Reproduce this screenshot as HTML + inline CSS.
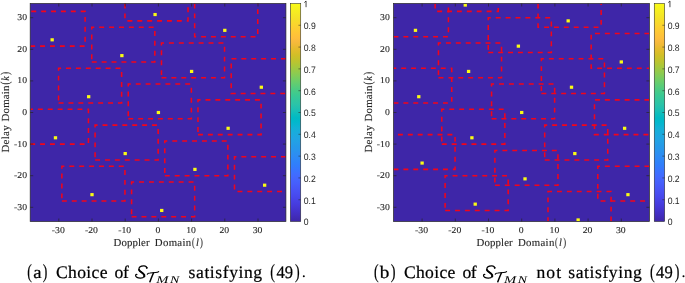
<!DOCTYPE html>
<html><head><meta charset="utf-8"><title>figure</title>
<style>
html,body{margin:0;padding:0;background:#fff;}
body{width:685px;height:283px;overflow:hidden;font-family:"Liberation Serif",serif;}
svg{display:block;will-change:transform;text-rendering:geometricPrecision;}
</style></head><body>
<svg width="685" height="283" viewBox="0 0 685 283">
<defs>
<linearGradient id="parula" x1="0" y1="1" x2="0" y2="0">
<stop offset="0.0000" stop-color="#3e26a8"/>
<stop offset="0.0159" stop-color="#402ab4"/>
<stop offset="0.0317" stop-color="#422ec0"/>
<stop offset="0.0476" stop-color="#4332cb"/>
<stop offset="0.0635" stop-color="#4537d5"/>
<stop offset="0.0794" stop-color="#463cde"/>
<stop offset="0.0952" stop-color="#4741e5"/>
<stop offset="0.1111" stop-color="#4747eb"/>
<stop offset="0.1270" stop-color="#484df0"/>
<stop offset="0.1429" stop-color="#4852f4"/>
<stop offset="0.1587" stop-color="#4758f8"/>
<stop offset="0.1746" stop-color="#465efb"/>
<stop offset="0.1905" stop-color="#4563fd"/>
<stop offset="0.2063" stop-color="#4269fe"/>
<stop offset="0.2222" stop-color="#3e6fff"/>
<stop offset="0.2381" stop-color="#3875fe"/>
<stop offset="0.2540" stop-color="#327cfc"/>
<stop offset="0.2698" stop-color="#2f81fa"/>
<stop offset="0.2857" stop-color="#2e87f7"/>
<stop offset="0.3016" stop-color="#2d8cf3"/>
<stop offset="0.3175" stop-color="#2b91ef"/>
<stop offset="0.3333" stop-color="#2797eb"/>
<stop offset="0.3492" stop-color="#259be8"/>
<stop offset="0.3651" stop-color="#23a0e5"/>
<stop offset="0.3810" stop-color="#20a5e3"/>
<stop offset="0.3968" stop-color="#1ca9df"/>
<stop offset="0.4127" stop-color="#18addb"/>
<stop offset="0.4286" stop-color="#12b1d6"/>
<stop offset="0.4444" stop-color="#08b5d0"/>
<stop offset="0.4603" stop-color="#01b8ca"/>
<stop offset="0.4762" stop-color="#02bac3"/>
<stop offset="0.4921" stop-color="#0bbdbd"/>
<stop offset="0.5079" stop-color="#19bfb6"/>
<stop offset="0.5238" stop-color="#24c1ae"/>
<stop offset="0.5397" stop-color="#2cc4a7"/>
<stop offset="0.5556" stop-color="#31c69f"/>
<stop offset="0.5714" stop-color="#37c897"/>
<stop offset="0.5873" stop-color="#3fca8e"/>
<stop offset="0.6032" stop-color="#4acb84"/>
<stop offset="0.6190" stop-color="#57cc7a"/>
<stop offset="0.6349" stop-color="#64cd6f"/>
<stop offset="0.6508" stop-color="#72cd64"/>
<stop offset="0.6667" stop-color="#81cc59"/>
<stop offset="0.6825" stop-color="#8fcb4e"/>
<stop offset="0.6984" stop-color="#9dc943"/>
<stop offset="0.7143" stop-color="#abc739"/>
<stop offset="0.7302" stop-color="#b9c431"/>
<stop offset="0.7460" stop-color="#c5c22a"/>
<stop offset="0.7619" stop-color="#d1bf27"/>
<stop offset="0.7778" stop-color="#dcbd29"/>
<stop offset="0.7937" stop-color="#e6bb2d"/>
<stop offset="0.8095" stop-color="#f0ba36"/>
<stop offset="0.8254" stop-color="#f8ba3d"/>
<stop offset="0.8413" stop-color="#febe3c"/>
<stop offset="0.8571" stop-color="#fec338"/>
<stop offset="0.8730" stop-color="#fec934"/>
<stop offset="0.8889" stop-color="#fccf30"/>
<stop offset="0.9048" stop-color="#fad62d"/>
<stop offset="0.9206" stop-color="#f7dc2a"/>
<stop offset="0.9365" stop-color="#f5e327"/>
<stop offset="0.9524" stop-color="#f5e924"/>
<stop offset="0.9683" stop-color="#f6ef20"/>
<stop offset="0.9841" stop-color="#f7f51b"/>
<stop offset="1.0000" stop-color="#f9fb15"/>
</linearGradient>
</defs>
<rect width="685" height="283" fill="#fff"/>
<clipPath id="ca"><rect x="30.18" y="3.48" width="255.74" height="218.04"/></clipPath>
<rect x="30.18" y="3.48" width="255.74" height="218.04" fill="#3e26a8"/>
<g clip-path="url(#ca)">
<rect x="50.50" y="38.24" width="3.32" height="3.16" fill="#f9fb15"/>
<rect x="53.82" y="136.20" width="3.32" height="3.16" fill="#f9fb15"/>
<rect x="87.02" y="95.12" width="3.32" height="3.16" fill="#f9fb15"/>
<rect x="90.34" y="193.08" width="3.32" height="3.16" fill="#f9fb15"/>
<rect x="120.22" y="54.04" width="3.32" height="3.16" fill="#f9fb15"/>
<rect x="123.54" y="152.00" width="3.32" height="3.16" fill="#f9fb15"/>
<rect x="153.42" y="12.96" width="3.32" height="3.16" fill="#f9fb15"/>
<rect x="156.74" y="110.92" width="3.32" height="3.16" fill="#f9fb15"/>
<rect x="160.06" y="208.88" width="3.32" height="3.16" fill="#f9fb15"/>
<rect x="189.94" y="69.84" width="3.32" height="3.16" fill="#f9fb15"/>
<rect x="193.26" y="167.80" width="3.32" height="3.16" fill="#f9fb15"/>
<rect x="223.14" y="28.76" width="3.32" height="3.16" fill="#f9fb15"/>
<rect x="226.46" y="126.72" width="3.32" height="3.16" fill="#f9fb15"/>
<rect x="259.66" y="85.64" width="3.32" height="3.16" fill="#f9fb15"/>
<rect x="262.98" y="183.60" width="3.32" height="3.16" fill="#f9fb15"/>
<g fill="none" stroke="#f2041a" stroke-width="1.55" stroke-dasharray="4.95 4.95">
<path d="M30.18 46.14L85.11 46.14L85.11 11.38L30.18 11.38"/>
<path d="M30.18 144.10L88.43 144.10L88.43 109.34L30.18 109.34"/>
<path d="M58.55 103.02L121.63 103.02L121.63 68.26L58.55 68.26L58.55 103.02"/>
<path d="M61.87 200.98L124.95 200.98L124.95 166.22L61.87 166.22L61.87 200.98"/>
<path d="M91.75 61.94L154.83 61.94L154.83 27.18L91.75 27.18L91.75 61.94"/>
<path d="M95.07 159.90L158.15 159.90L158.15 125.14L95.07 125.14L95.07 159.90"/>
<path d="M124.95 3.48L124.95 20.86L188.03 20.86L188.03 3.48"/>
<path d="M128.27 118.82L191.35 118.82L191.35 84.06L128.27 84.06L128.27 118.82"/>
<path d="M131.59 216.78L194.67 216.78L194.67 182.02L131.59 182.02L131.59 216.78"/>
<path d="M161.47 77.74L224.55 77.74L224.55 42.98L161.47 42.98L161.47 77.74"/>
<path d="M164.79 175.70L227.87 175.70L227.87 140.94L164.79 140.94L164.79 175.70"/>
<path d="M194.67 3.48L194.67 36.66L257.75 36.66L257.75 3.48"/>
<path d="M197.99 134.62L261.07 134.62L261.07 99.86L197.99 99.86L197.99 134.62"/>
<path d="M285.92 58.78L231.19 58.78L231.19 93.54L285.92 93.54"/>
<path d="M285.92 156.74L234.51 156.74L234.51 191.50L285.92 191.50"/>
</g></g>
<g stroke="#262626" stroke-width="0.7" fill="none">
<rect x="30.18" y="3.48" width="255.74" height="218.04"/>
<path d="M58.80 221.52v-3.0M58.80 3.48v3.0"/>
<path d="M30.18 207.30h3.0M285.92 207.30h-3.0"/>
<path d="M92.00 221.52v-3.0M92.00 3.48v3.0"/>
<path d="M30.18 175.70h3.0M285.92 175.70h-3.0"/>
<path d="M125.20 221.52v-3.0M125.20 3.48v3.0"/>
<path d="M30.18 144.10h3.0M285.92 144.10h-3.0"/>
<path d="M158.40 221.52v-3.0M158.40 3.48v3.0"/>
<path d="M30.18 112.50h3.0M285.92 112.50h-3.0"/>
<path d="M191.60 221.52v-3.0M191.60 3.48v3.0"/>
<path d="M30.18 80.90h3.0M285.92 80.90h-3.0"/>
<path d="M224.80 221.52v-3.0M224.80 3.48v3.0"/>
<path d="M30.18 49.30h3.0M285.92 49.30h-3.0"/>
<path d="M258.00 221.52v-3.0M258.00 3.48v3.0"/>
<path d="M30.18 17.70h3.0M285.92 17.70h-3.0"/>
</g>
<g font-family="Liberation Serif, serif" font-size="9.0" fill="#262626" stroke="#262626" stroke-width="0.1">
<text transform="translate(58.30 232.8) scale(1.08 1)" text-anchor="middle">-30</text>
<text transform="translate(27.08 209.70) scale(1.08 1)" text-anchor="end">-30</text>
<text transform="translate(91.50 232.8) scale(1.08 1)" text-anchor="middle">-20</text>
<text transform="translate(27.08 178.10) scale(1.08 1)" text-anchor="end">-20</text>
<text transform="translate(124.70 232.8) scale(1.08 1)" text-anchor="middle">-10</text>
<text transform="translate(27.08 146.50) scale(1.08 1)" text-anchor="end">-10</text>
<text transform="translate(157.90 232.8) scale(1.08 1)" text-anchor="middle">0</text>
<text transform="translate(27.08 114.90) scale(1.08 1)" text-anchor="end">0</text>
<text transform="translate(191.10 232.8) scale(1.08 1)" text-anchor="middle">10</text>
<text transform="translate(27.08 83.30) scale(1.08 1)" text-anchor="end">10</text>
<text transform="translate(224.30 232.8) scale(1.08 1)" text-anchor="middle">20</text>
<text transform="translate(27.08 51.70) scale(1.08 1)" text-anchor="end">20</text>
<text transform="translate(257.50 232.8) scale(1.08 1)" text-anchor="middle">30</text>
<text transform="translate(27.08 20.10) scale(1.08 1)" text-anchor="end">30</text>
</g>
<g font-family="Liberation Serif, serif" fill="#262626" stroke="#262626" stroke-width="0.12">
<text x="113.50" y="246.4" font-size="10.8" letter-spacing="0.122">Doppler</text>
<text x="154.80" y="246.4" font-size="10.8" letter-spacing="0.325">Domain</text>
<text transform="translate(192.00 246.3) scale(0.6606 1)" font-size="12.2">(</text>
<text transform="translate(196.00 246.4) scale(0.9590 1)" font-size="10.8" font-style="italic">l</text>
<text transform="translate(200.10 246.3) scale(0.7096 1)" font-size="12.2">)</text>
<g transform="translate(8.90 152.6) rotate(-90)">
<text x="0.00" y="0" font-size="10.8" letter-spacing="0.347">Delay</text>
<text x="31.20" y="0" font-size="10.8" letter-spacing="0.205">Domain</text>
<text transform="translate(68.00 -0.1) scale(0.7096 1)" font-size="12.2">(</text>
<text transform="translate(71.90 0) scale(0.9259 1)" font-size="10.8" font-style="italic">k</text>
<text transform="translate(77.60 -0.1) scale(0.7830 1)" font-size="12.2">)</text>
</g></g>
<rect x="290.35" y="3.48" width="10.4" height="218.04" fill="url(#parula)"/>
<g stroke="#262626" stroke-width="0.55" fill="none">
<rect x="290.35" y="3.48" width="10.4" height="218.04"/>
<path d="M300.75 199.72h-2.3"/>
<path d="M300.75 177.91h-2.3"/>
<path d="M300.75 156.11h-2.3"/>
<path d="M300.75 134.30h-2.3"/>
<path d="M300.75 112.50h-2.3"/>
<path d="M300.75 90.70h-2.3"/>
<path d="M300.75 68.89h-2.3"/>
<path d="M300.75 47.09h-2.3"/>
<path d="M300.75 25.28h-2.3"/>
</g>
<g font-family="Liberation Sans, sans-serif" font-size="9.3" fill="#262626">
<text transform="translate(303.75 225.37) scale(0.93 1)">0</text>
<text transform="translate(303.75 203.57) scale(0.93 1)">0.1</text>
<text transform="translate(303.75 181.76) scale(0.93 1)">0.2</text>
<text transform="translate(303.75 159.96) scale(0.93 1)">0.3</text>
<text transform="translate(303.75 138.15) scale(0.93 1)">0.4</text>
<text transform="translate(303.75 116.35) scale(0.93 1)">0.5</text>
<text transform="translate(303.75 94.55) scale(0.93 1)">0.6</text>
<text transform="translate(303.75 72.74) scale(0.93 1)">0.7</text>
<text transform="translate(303.75 50.94) scale(0.93 1)">0.8</text>
<text transform="translate(303.75 29.13) scale(0.93 1)">0.9</text>
<path d="M304.35 2.58L306.05 0.98L306.05 7.18" fill="none" stroke="#262626" stroke-width="0.85"/>
</g>
<clipPath id="cb"><rect x="393.48" y="3.48" width="255.94" height="218.04"/></clipPath>
<rect x="393.48" y="3.48" width="255.94" height="218.04" fill="#3e26a8"/>
<g clip-path="url(#cb)">
<rect x="413.80" y="28.76" width="3.32" height="3.16" fill="#f9fb15"/>
<rect x="417.12" y="95.12" width="3.32" height="3.16" fill="#f9fb15"/>
<rect x="420.44" y="161.48" width="3.32" height="3.16" fill="#f9fb15"/>
<rect x="463.60" y="3.48" width="3.32" height="3.16" fill="#f9fb15"/>
<rect x="466.92" y="69.84" width="3.32" height="3.16" fill="#f9fb15"/>
<rect x="470.24" y="136.20" width="3.32" height="3.16" fill="#f9fb15"/>
<rect x="473.56" y="202.56" width="3.32" height="3.16" fill="#f9fb15"/>
<rect x="516.72" y="44.56" width="3.32" height="3.16" fill="#f9fb15"/>
<rect x="520.04" y="110.92" width="3.32" height="3.16" fill="#f9fb15"/>
<rect x="523.36" y="177.28" width="3.32" height="3.16" fill="#f9fb15"/>
<rect x="566.52" y="19.28" width="3.32" height="3.16" fill="#f9fb15"/>
<rect x="569.84" y="85.64" width="3.32" height="3.16" fill="#f9fb15"/>
<rect x="573.16" y="152.00" width="3.32" height="3.16" fill="#f9fb15"/>
<rect x="576.48" y="218.36" width="3.32" height="3.16" fill="#f9fb15"/>
<rect x="619.64" y="60.36" width="3.32" height="3.16" fill="#f9fb15"/>
<rect x="622.96" y="126.72" width="3.32" height="3.16" fill="#f9fb15"/>
<rect x="626.28" y="193.08" width="3.32" height="3.16" fill="#f9fb15"/>
<g fill="none" stroke="#f2041a" stroke-width="1.55" stroke-dasharray="4.95 4.95">
<path d="M393.48 36.66L448.41 36.66L448.41 3.48"/>
<path d="M393.48 103.02L451.73 103.02L451.73 68.26L393.48 68.26"/>
<path d="M393.48 169.38L455.05 169.38L455.05 134.62L393.48 134.62"/>
<path d="M435.13 3.48L435.13 11.38L498.21 11.38L498.21 3.48"/>
<path d="M438.45 77.74L501.53 77.74L501.53 42.98L438.45 42.98L438.45 77.74"/>
<path d="M441.77 144.10L504.85 144.10L504.85 109.34L441.77 109.34L441.77 144.10"/>
<path d="M445.09 210.46L508.17 210.46L508.17 175.70L445.09 175.70L445.09 210.46"/>
<path d="M488.25 52.46L551.33 52.46L551.33 17.70L488.25 17.70L488.25 52.46"/>
<path d="M491.57 118.82L554.65 118.82L554.65 84.06L491.57 84.06L491.57 118.82"/>
<path d="M494.89 185.18L557.97 185.18L557.97 150.42L494.89 150.42L494.89 185.18"/>
<path d="M538.05 3.48L538.05 27.18L601.13 27.18L601.13 3.48"/>
<path d="M541.37 93.54L604.45 93.54L604.45 58.78L541.37 58.78L541.37 93.54"/>
<path d="M544.69 159.90L607.77 159.90L607.77 125.14L544.69 125.14L544.69 159.90"/>
<path d="M611.09 221.52L611.09 191.50L548.01 191.50L548.01 221.52"/>
<path d="M649.42 33.50L591.17 33.50L591.17 68.26L649.42 68.26"/>
<path d="M649.42 99.86L594.49 99.86L594.49 134.62L649.42 134.62"/>
<path d="M649.42 166.22L597.81 166.22L597.81 200.98L649.42 200.98"/>
</g></g>
<g stroke="#262626" stroke-width="0.7" fill="none">
<rect x="393.48" y="3.48" width="255.94" height="218.04"/>
<path d="M422.10 221.52v-3.0M422.10 3.48v3.0"/>
<path d="M393.48 207.30h3.0M649.42 207.30h-3.0"/>
<path d="M455.30 221.52v-3.0M455.30 3.48v3.0"/>
<path d="M393.48 175.70h3.0M649.42 175.70h-3.0"/>
<path d="M488.50 221.52v-3.0M488.50 3.48v3.0"/>
<path d="M393.48 144.10h3.0M649.42 144.10h-3.0"/>
<path d="M521.70 221.52v-3.0M521.70 3.48v3.0"/>
<path d="M393.48 112.50h3.0M649.42 112.50h-3.0"/>
<path d="M554.90 221.52v-3.0M554.90 3.48v3.0"/>
<path d="M393.48 80.90h3.0M649.42 80.90h-3.0"/>
<path d="M588.10 221.52v-3.0M588.10 3.48v3.0"/>
<path d="M393.48 49.30h3.0M649.42 49.30h-3.0"/>
<path d="M621.30 221.52v-3.0M621.30 3.48v3.0"/>
<path d="M393.48 17.70h3.0M649.42 17.70h-3.0"/>
</g>
<g font-family="Liberation Serif, serif" font-size="9.0" fill="#262626" stroke="#262626" stroke-width="0.1">
<text transform="translate(421.60 232.8) scale(1.08 1)" text-anchor="middle">-30</text>
<text transform="translate(389.78 209.70) scale(1.08 1)" text-anchor="end">-30</text>
<text transform="translate(454.80 232.8) scale(1.08 1)" text-anchor="middle">-20</text>
<text transform="translate(389.78 178.10) scale(1.08 1)" text-anchor="end">-20</text>
<text transform="translate(488.00 232.8) scale(1.08 1)" text-anchor="middle">-10</text>
<text transform="translate(389.78 146.50) scale(1.08 1)" text-anchor="end">-10</text>
<text transform="translate(521.20 232.8) scale(1.08 1)" text-anchor="middle">0</text>
<text transform="translate(389.78 114.90) scale(1.08 1)" text-anchor="end">0</text>
<text transform="translate(554.40 232.8) scale(1.08 1)" text-anchor="middle">10</text>
<text transform="translate(389.78 83.30) scale(1.08 1)" text-anchor="end">10</text>
<text transform="translate(587.60 232.8) scale(1.08 1)" text-anchor="middle">20</text>
<text transform="translate(389.78 51.70) scale(1.08 1)" text-anchor="end">20</text>
<text transform="translate(620.80 232.8) scale(1.08 1)" text-anchor="middle">30</text>
<text transform="translate(389.78 20.10) scale(1.08 1)" text-anchor="end">30</text>
</g>
<g font-family="Liberation Serif, serif" fill="#262626" stroke="#262626" stroke-width="0.12">
<text x="476.60" y="246.4" font-size="10.8" letter-spacing="0.122">Doppler</text>
<text x="517.90" y="246.4" font-size="10.8" letter-spacing="0.325">Domain</text>
<text transform="translate(555.10 246.3) scale(0.6606 1)" font-size="12.2">(</text>
<text transform="translate(559.10 246.4) scale(0.9590 1)" font-size="10.8" font-style="italic">l</text>
<text transform="translate(563.20 246.3) scale(0.7096 1)" font-size="12.2">)</text>
<g transform="translate(372.00 152.6) rotate(-90)">
<text x="0.00" y="0" font-size="10.8" letter-spacing="0.347">Delay</text>
<text x="31.20" y="0" font-size="10.8" letter-spacing="0.205">Domain</text>
<text transform="translate(68.00 -0.1) scale(0.7096 1)" font-size="12.2">(</text>
<text transform="translate(71.90 0) scale(0.9259 1)" font-size="10.8" font-style="italic">k</text>
<text transform="translate(77.60 -0.1) scale(0.7830 1)" font-size="12.2">)</text>
</g></g>
<rect x="654.25" y="3.48" width="10.4" height="218.04" fill="url(#parula)"/>
<g stroke="#262626" stroke-width="0.55" fill="none">
<rect x="654.25" y="3.48" width="10.4" height="218.04"/>
<path d="M664.65 199.72h-2.3"/>
<path d="M664.65 177.91h-2.3"/>
<path d="M664.65 156.11h-2.3"/>
<path d="M664.65 134.30h-2.3"/>
<path d="M664.65 112.50h-2.3"/>
<path d="M664.65 90.70h-2.3"/>
<path d="M664.65 68.89h-2.3"/>
<path d="M664.65 47.09h-2.3"/>
<path d="M664.65 25.28h-2.3"/>
</g>
<g font-family="Liberation Sans, sans-serif" font-size="9.3" fill="#262626">
<text transform="translate(667.65 225.37) scale(0.93 1)">0</text>
<text transform="translate(667.65 203.57) scale(0.93 1)">0.1</text>
<text transform="translate(667.65 181.76) scale(0.93 1)">0.2</text>
<text transform="translate(667.65 159.96) scale(0.93 1)">0.3</text>
<text transform="translate(667.65 138.15) scale(0.93 1)">0.4</text>
<text transform="translate(667.65 116.35) scale(0.93 1)">0.5</text>
<text transform="translate(667.65 94.55) scale(0.93 1)">0.6</text>
<text transform="translate(667.65 72.74) scale(0.93 1)">0.7</text>
<text transform="translate(667.65 50.94) scale(0.93 1)">0.8</text>
<text transform="translate(667.65 29.13) scale(0.93 1)">0.9</text>
<path d="M668.25 2.58L669.95 0.98L669.95 7.18" fill="none" stroke="#262626" stroke-width="0.85"/>
</g>
<g font-family="Liberation Serif, serif" fill="#000" stroke="#000" stroke-width="0.22">
<text transform="translate(27.30 277.9) scale(0.6798 1)" font-size="20.2">(</text>
<text transform="translate(33.30 277.5) scale(1.0598 1)" font-size="17.6">a</text>
<text transform="translate(42.70 277.9) scale(0.6798 1)" font-size="20.2">)</text>
<text x="56.00" y="277.5" font-size="17.6" letter-spacing="0.341">Choice</text>
<text x="114.60" y="277.5" font-size="17.6" letter-spacing="-0.496">of</text>
<text x="188.60" y="277.5" font-size="17.6" letter-spacing="0.571">satisfying</text>
<text transform="translate(270.20 277.9) scale(0.6945 1)" font-size="20.2">(</text>
<text transform="translate(276.40 277.5) scale(0.9432 1)" font-size="17.6">49</text>
<text transform="translate(295.00 277.9) scale(0.6945 1)" font-size="20.2">)</text>
<circle cx="303.80" cy="276.35" r="1.0" stroke="none"/>
<text x="156.2" y="283.0" font-size="10.4" font-style="italic" stroke="none" textLength="12.3" lengthAdjust="spacingAndGlyphs">M</text>
<text x="169.9" y="283.0" font-size="10.4" font-style="italic" stroke="none" textLength="9.3" lengthAdjust="spacingAndGlyphs">N</text>
</g>
<g transform="translate(0.0 0.25)" fill="none" stroke="#000" stroke-linecap="round" stroke-linejoin="round">
<path stroke-width="1.2" d="M146.9 267.9 C146.9 266.3 145.6 265.6 143.7 265.7 C141.0 265.8 138.9 267.2 138.9 269.0 C138.9 270.9 141.6 272.0 143.2 273.4 C145.2 275.2 144.4 277.7 140.6 277.8 C137.6 277.9 135.5 276.8 135.6 275.3 C135.7 274.4 136.3 274.0 136.9 274.3"/>
<path stroke-width="1.9" d="M139.0 269.6 C139.6 271.0 141.8 272.2 143.3 273.5 C144.3 274.4 144.7 275.3 144.4 276.2"/>
<circle cx="146.6" cy="267.5" r="0.55" fill="#000" stroke-width="0.6"/>
<path stroke-width="1.1" d="M147.3 274.0 C147.6 273.1 148.4 272.9 150.0 272.8 L155.5 272.3 C157.0 272.2 158.1 271.9 158.7 271.3"/>
<path stroke-width="1.5" d="M153.5 272.6 C152.4 275.2 150.8 278.9 149.9 281.6"/>
</g>
<g font-family="Liberation Serif, serif" fill="#000" stroke="#000" stroke-width="0.22">
<text transform="translate(374.00 277.9) scale(0.6798 1)" font-size="20.2">(</text>
<text transform="translate(379.80 277.5) scale(1.0909 1)" font-size="17.6">b</text>
<text transform="translate(390.80 277.9) scale(0.7093 1)" font-size="20.2">)</text>
<text x="403.90" y="277.5" font-size="17.6" letter-spacing="0.341">Choice</text>
<text x="462.50" y="277.5" font-size="17.6" letter-spacing="-0.496">of</text>
<text x="536.50" y="277.5" font-size="17.6" letter-spacing="1.036">not</text>
<text x="568.30" y="277.5" font-size="17.6" letter-spacing="0.571">satisfying</text>
<text transform="translate(649.90 277.9) scale(0.6945 1)" font-size="20.2">(</text>
<text transform="translate(656.10 277.5) scale(0.9432 1)" font-size="17.6">49</text>
<text transform="translate(674.70 277.9) scale(0.6945 1)" font-size="20.2">)</text>
<circle cx="683.50" cy="276.35" r="1.0" stroke="none"/>
<text x="504.1" y="283.0" font-size="10.4" font-style="italic" stroke="none" textLength="12.3" lengthAdjust="spacingAndGlyphs">M</text>
<text x="517.8" y="283.0" font-size="10.4" font-style="italic" stroke="none" textLength="9.3" lengthAdjust="spacingAndGlyphs">N</text>
</g>
<g transform="translate(347.9 0.25)" fill="none" stroke="#000" stroke-linecap="round" stroke-linejoin="round">
<path stroke-width="1.2" d="M146.9 267.9 C146.9 266.3 145.6 265.6 143.7 265.7 C141.0 265.8 138.9 267.2 138.9 269.0 C138.9 270.9 141.6 272.0 143.2 273.4 C145.2 275.2 144.4 277.7 140.6 277.8 C137.6 277.9 135.5 276.8 135.6 275.3 C135.7 274.4 136.3 274.0 136.9 274.3"/>
<path stroke-width="1.9" d="M139.0 269.6 C139.6 271.0 141.8 272.2 143.3 273.5 C144.3 274.4 144.7 275.3 144.4 276.2"/>
<circle cx="146.6" cy="267.5" r="0.55" fill="#000" stroke-width="0.6"/>
<path stroke-width="1.1" d="M147.3 274.0 C147.6 273.1 148.4 272.9 150.0 272.8 L155.5 272.3 C157.0 272.2 158.1 271.9 158.7 271.3"/>
<path stroke-width="1.5" d="M153.5 272.6 C152.4 275.2 150.8 278.9 149.9 281.6"/>
</g>
</svg>
</body></html>
